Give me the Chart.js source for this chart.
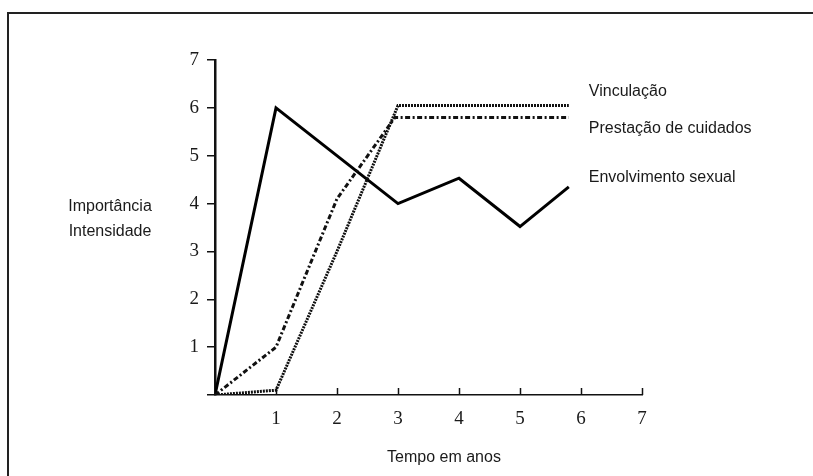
<!DOCTYPE html>
<html>
<head>
<meta charset="utf-8">
<script src="https://cdn.jsdelivr.net/npm/chart.js@4.4.1/dist/chart.umd.min.js"></script>
<style>
  html, body { margin: 0; padding: 0; background: #fff; }
  #wrap { position: relative; width: 813px; height: 476px; }
  canvas { display: block; }
</style>
</head>
<body>
<div id="wrap"><canvas id="c" width="813" height="476"></canvas></div>
<script>
// ---- data ----
const seriesNames = ['Vinculação', 'Prestação de cuidados', 'Envolvimento sexual'];
const vinculacaoX = [0, 1, 2, 3, 5.8];
const vinculacaoY = [0, 0.1, 3.0, 6.05, 6.05];
const prestacaoX = [0, 1, 2, 2.95, 5.8];
const prestacaoY = [0, 1.0, 4.1, 5.8, 5.8];
const envolvimentoX = [0, 1, 3, 4, 5, 5.8];
const envolvimentoY = [0, 6.0, 4.0, 4.53, 3.52, 4.35];
const xTickValues = [1, 2, 3, 4, 5, 6, 7];
const yTickValues = [0, 1, 2, 3, 4, 5, 6, 7];
const yAxisTitle = ['Importância', 'Intensidade'];
const xAxisTitle = 'Tempo em anos';

function toPoints(xs, ys) { return xs.map((x, i) => ({ x: x, y: ys[i] })); }

const SANS = '"Liberation Sans", Arial, sans-serif';
const SERIF = '"Liberation Serif", "Times New Roman", serif';

// label placement relative to the end of each line (styling only)
const labelOffsets = [-14, 11, -9];

const annotations = {
  id: 'annotations',
  afterDraw(chart) {
    const ctx = chart.ctx;
    const xs = chart.scales.x, ys = chart.scales.y;
    ctx.save();
    // inward x tick marks
    ctx.strokeStyle = '#111';
    ctx.lineWidth = 1.5;
    xTickValues.forEach(v => {
      const px = Math.round(xs.getPixelForValue(v)) + 0.5;
      ctx.beginPath();
      ctx.moveTo(px, ys.bottom);
      ctx.lineTo(px, ys.bottom - 7);
      ctx.stroke();
    });
    // series labels
    ctx.fillStyle = '#1a1a1a';
    ctx.font = '16px ' + SANS;
    ctx.textBaseline = 'middle';
    ctx.textAlign = 'left';
    chart.data.datasets.forEach((ds, i) => {
      const last = ds.data[ds.data.length - 1];
      const px = xs.getPixelForValue(last.x) + 20;
      const py = ys.getPixelForValue(last.y) + labelOffsets[i];
      ctx.fillText(ds.label, px, py);
    });
    // y axis title (horizontal, two lines)
    ctx.textAlign = 'center';
    ctx.fillText(yAxisTitle[0], 110, 207);
    ctx.fillText(yAxisTitle[1], 110, 232);
    // x axis title
    ctx.fillText(xAxisTitle, 444, 458);
    ctx.restore();
  }
};

// page frame
const frame = {
  id: 'frame',
  beforeDraw(chart) {
    const ctx = chart.ctx;
    ctx.save();
    ctx.fillStyle = '#fff';
    ctx.fillRect(0, 0, chart.width, chart.height);
    ctx.strokeStyle = '#222';
    ctx.lineWidth = 2;
    ctx.beginPath();
    ctx.moveTo(8, chart.height);
    ctx.lineTo(8, 13);
    ctx.lineTo(chart.width, 13);
    ctx.stroke();
    ctx.restore();
  }
};

new Chart(document.getElementById('c'), {
  type: 'line',
  data: {
    datasets: [
      {
        label: seriesNames[0],
        data: toPoints(vinculacaoX, vinculacaoY),
        borderColor: '#111',
        borderWidth: 3,
        borderDash: [2, 1],
        pointRadius: 0,
        tension: 0,
        fill: false
      },
      {
        label: seriesNames[1],
        data: toPoints(prestacaoX, prestacaoY),
        borderColor: '#111',
        borderWidth: 3,
        borderDash: [5, 2.5, 2, 2.5],
        pointRadius: 0,
        tension: 0,
        fill: false
      },
      {
        label: seriesNames[2],
        data: toPoints(envolvimentoX, envolvimentoY),
        borderColor: '#000',
        borderWidth: 3,
        pointRadius: 0,
        tension: 0,
        fill: false
      }
    ]
  },
  options: {
    responsive: false,
    animation: false,
    layout: { padding: { left: 0, right: 171, top: 60, bottom: 0 } },
    plugins: {
      legend: { display: false },
      tooltip: { enabled: false },
      title: { display: false }
    },
    scales: {
      x: {
        type: 'linear',
        min: 0,
        max: 7,
        afterFit: s => { s.height = 81; },
        afterBuildTicks: s => { s.ticks = [0].concat(xTickValues).map(v => ({ value: v })); },
        ticks: {
          callback: v => (v === 0 ? '' : String(v)),
          font: { family: SERIF, size: 19 },
          color: '#1a1a1a',
          padding: 13,
          maxRotation: 0,
          autoSkip: false
        },
        grid: { display: true, drawOnChartArea: false, drawTicks: false },
        border: { display: true, color: '#111', width: 1.5 }
      },
      y: {
        type: 'linear',
        min: 0,
        max: 7,
        afterFit: s => { s.width = 215; },
        afterBuildTicks: s => { s.ticks = yTickValues.map(v => ({ value: v })); },
        ticks: {
          callback: v => (v === 0 ? '' : String(v)),
          font: { family: SERIF, size: 19 },
          color: '#1a1a1a',
          padding: 8,
          autoSkip: false
        },
        grid: { display: true, drawOnChartArea: false, drawTicks: true, tickLength: 8, color: '#111', lineWidth: 1.5 },
        border: { display: true, color: '#111', width: 2.5 }
      }
    }
  },
  plugins: [frame, annotations]
});
</script>
</body>
</html>
